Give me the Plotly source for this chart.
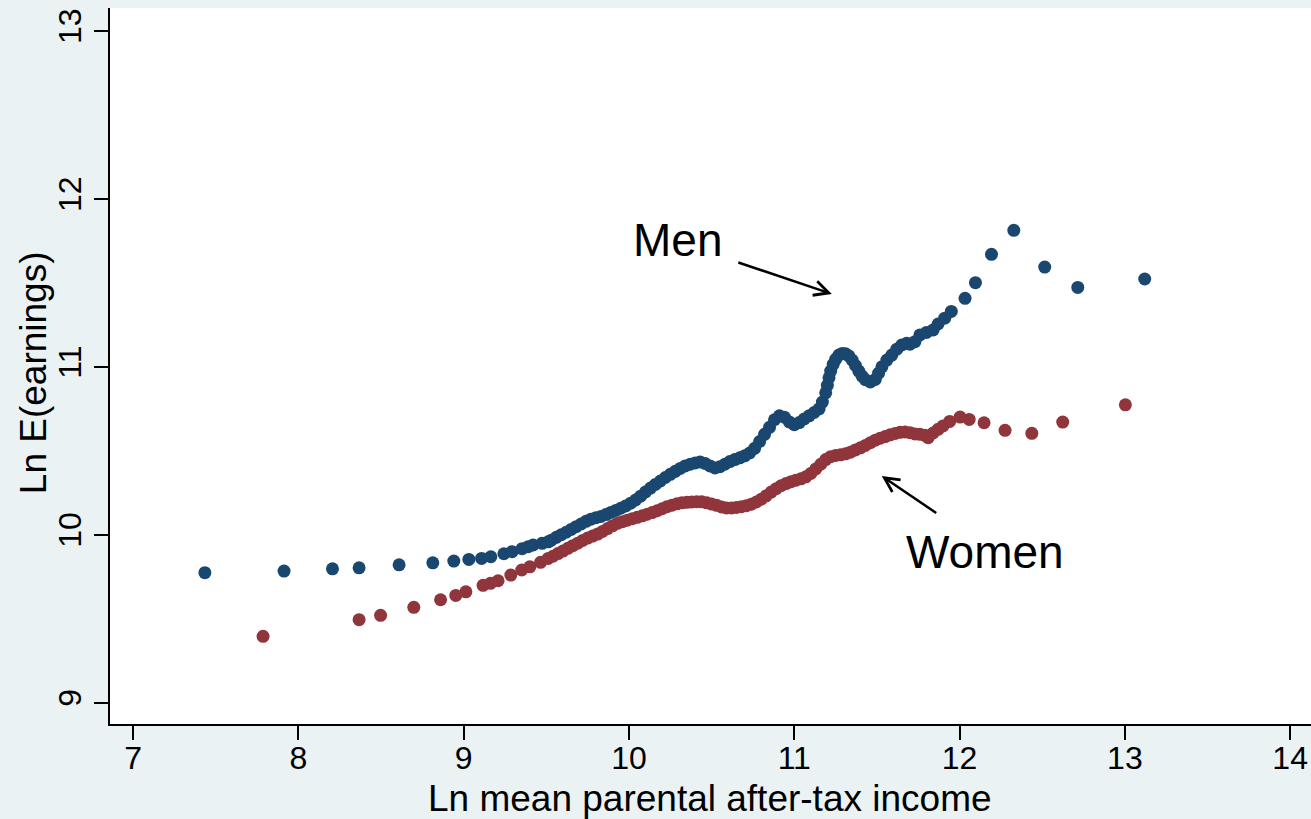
import plotly.graph_objects as go

# Ln mean parental after-tax income (x) vs Ln E(earnings) (y), by sex
men_x = [7.434, 7.913, 8.206, 8.367, 8.609, 8.813, 8.940, 9.031, 9.108, 9.164,
         9.243, 9.293, 9.353, 9.390, 9.420, 9.474, 9.511,
         9.53, 9.56, 9.59, 9.62, 9.65, 9.68, 9.71, 9.74, 9.77, 9.80,
         9.83, 9.86, 9.89, 9.92, 9.95, 9.98, 10.01, 10.04, 10.07, 10.10,
         10.13, 10.16, 10.19, 10.22, 10.25, 10.28, 10.31, 10.34, 10.37, 10.40,
         10.43, 10.46, 10.49, 10.52, 10.55, 10.58, 10.61, 10.64, 10.67, 10.70,
         10.73, 10.76, 10.79, 10.82, 10.85, 10.88, 10.91, 10.94,
         10.97, 11.00, 11.03, 11.06, 11.09, 11.12, 11.15,
         11.17, 11.19, 11.20, 11.21, 11.22, 11.235, 11.25, 11.27, 11.29, 11.31,
         11.33, 11.35, 11.37, 11.39, 11.41, 11.43,
         11.46, 11.49, 11.51, 11.53, 11.56, 11.59, 11.62, 11.65, 11.68, 11.70,
         11.73, 11.76, 11.80, 11.84, 11.87, 11.91, 11.95,
         12.033, 12.096, 12.193, 12.328, 12.515, 12.715, 13.12]
men_y = [9.774, 9.784, 9.797, 9.803, 9.821, 9.833, 9.843, 9.853, 9.859, 9.869,
         9.887, 9.899, 9.917, 9.929, 9.939, 9.949, 9.958,
         9.968, 9.985, 10.000, 10.015, 10.032, 10.048, 10.064, 10.080, 10.093, 10.102,
         10.109, 10.120, 10.133, 10.145, 10.158, 10.172, 10.188, 10.207, 10.230, 10.255,
         10.278, 10.300, 10.320, 10.341, 10.360, 10.378, 10.395, 10.410, 10.420, 10.428,
         10.434, 10.425, 10.410, 10.398, 10.405, 10.420, 10.436, 10.448, 10.458, 10.470,
         10.487, 10.515, 10.555, 10.598, 10.640, 10.685, 10.708, 10.700,
         10.672, 10.655, 10.668, 10.690, 10.708, 10.728, 10.750,
         10.790, 10.845, 10.890, 10.935, 10.975, 11.015, 11.045, 11.070, 11.080, 11.078,
         11.065, 11.040, 11.008, 10.975, 10.945, 10.923,
         10.910, 10.925, 10.962, 11.000, 11.040, 11.070, 11.105, 11.130, 11.140, 11.135,
         11.150, 11.190, 11.205, 11.220, 11.255, 11.290, 11.330,
         11.408, 11.501, 11.670, 11.813, 11.594, 11.473, 11.523]

women_x = [7.786, 8.367, 8.497, 8.698, 8.860, 8.952, 9.013, 9.117, 9.162, 9.208,
           9.285, 9.351, 9.400, 9.465, 9.511,
           9.54, 9.57, 9.60, 9.63, 9.66, 9.69, 9.72, 9.75, 9.78, 9.81,
           9.84, 9.87, 9.90, 9.93, 9.96, 9.99, 10.02, 10.05, 10.08, 10.11,
           10.14, 10.17, 10.20, 10.23, 10.26, 10.29, 10.32, 10.35, 10.38, 10.41,
           10.44, 10.47, 10.50, 10.53, 10.56, 10.59, 10.62, 10.65, 10.68, 10.71,
           10.74, 10.77, 10.80, 10.83, 10.86, 10.89, 10.92, 10.95, 10.98, 11.01,
           11.04, 11.07, 11.10, 11.13, 11.16, 11.19, 11.22, 11.25, 11.28, 11.31,
           11.34, 11.37, 11.40, 11.43, 11.46, 11.49, 11.52, 11.55, 11.58, 11.61,
           11.64, 11.67, 11.70, 11.73, 11.76, 11.79, 11.81, 11.84, 11.87, 11.90,
           11.94, 12.003, 12.058, 12.148, 12.275, 12.437, 12.624, 13.003]
women_y = [9.395, 9.494, 9.520, 9.568, 9.613, 9.639, 9.660, 9.699, 9.711, 9.726,
           9.760, 9.790, 9.809, 9.836, 9.859,
           9.872, 9.888, 9.903, 9.919, 9.935, 9.950, 9.966, 9.980, 9.992, 10.004,
           10.020, 10.037, 10.053, 10.068, 10.078, 10.087, 10.096, 10.104, 10.113, 10.122,
           10.132, 10.143, 10.155, 10.167, 10.176, 10.184, 10.190, 10.193, 10.195, 10.197,
           10.196, 10.190, 10.183, 10.175, 10.166, 10.160, 10.160, 10.163, 10.167, 10.173,
           10.182, 10.195, 10.212, 10.232, 10.254, 10.274, 10.292, 10.305, 10.316, 10.325,
           10.333, 10.345, 10.365, 10.392, 10.420, 10.448, 10.465, 10.472, 10.476, 10.482,
           10.492, 10.505, 10.518, 10.532, 10.548, 10.563, 10.575, 10.585, 10.595, 10.603,
           10.610, 10.612, 10.608, 10.600, 10.598, 10.592, 10.578, 10.606, 10.628, 10.648,
           10.675, 10.701, 10.687, 10.667, 10.622, 10.604, 10.671, 10.774]

x_ticks = [7, 8, 9, 10, 11, 12, 13, 14]
y_ticks = [9, 10, 11, 12, 13]

NAVY = "#1A476F"
MAROON = "#90353B"
BG = "#EAF2F3"
FONT = "Liberation Sans, Arial, Helvetica, sans-serif"

fig = go.Figure()
fig.add_trace(go.Scatter(x=men_x, y=men_y, mode="markers", name="Men",
                         marker=dict(color=NAVY, size=13, line=dict(width=0))))
fig.add_trace(go.Scatter(x=women_x, y=women_y, mode="markers", name="Women",
                         marker=dict(color=MAROON, size=13, line=dict(width=0))))

axis_common = dict(showgrid=False, zeroline=False, showline=True, linecolor="black",
                   linewidth=2, ticks="outside", ticklen=14, tickwidth=2,
                   tickcolor="black", tickfont=dict(family=FONT, size=32, color="black"))

fig.update_xaxes(range=[6.860, 14.126], tickvals=x_ticks, ticklabelstandoff=-9,
                 **axis_common)
fig.update_yaxes(range=[8.873, 13.137], tickvals=y_ticks, tickangle=-90, **axis_common)

annotations = [
    # axis titles
    dict(text="Ln mean parental after-tax income", xref="paper", yref="paper",
         x=0.4996, y=-0.1045, xanchor="center", yanchor="middle", showarrow=False,
         font=dict(family=FONT, size=37, color="black")),
    dict(text="Ln E(earnings)", xref="paper", yref="paper",
         x=-0.0641, y=0.49, xanchor="center", yanchor="middle", showarrow=False,
         textangle=-90, font=dict(family=FONT, size=37, color="black")),
    # series labels
    dict(text="Men", x=10.017, y=11.755, xanchor="left", yanchor="middle",
         showarrow=False, borderpad=0, font=dict(family=FONT, size=46, color="black")),
    dict(text="Women", x=11.668, y=9.897, xanchor="left", yanchor="middle",
         showarrow=False, borderpad=0, font=dict(family=FONT, size=46, color="black")),
    # pointer arrows
    dict(text="", x=11.227, y=11.434, ax=-95, ay=-32, showarrow=True,
         arrowhead=5, arrowsize=1.15, arrowwidth=2.5, arrowcolor="black", standoff=0),
    dict(text="", x=11.529, y=10.350, ax=56, ay=38, showarrow=True,
         arrowhead=5, arrowsize=1.15, arrowwidth=2.5, arrowcolor="black", standoff=0),
]

fig.update_layout(
    width=1311, height=819,
    margin=dict(l=110, r=0, t=8, b=95),
    paper_bgcolor=BG, plot_bgcolor="white",
    showlegend=False,
    annotations=annotations,
    font=dict(family=FONT, color="black"),
)

fig.write_html("out.html")
